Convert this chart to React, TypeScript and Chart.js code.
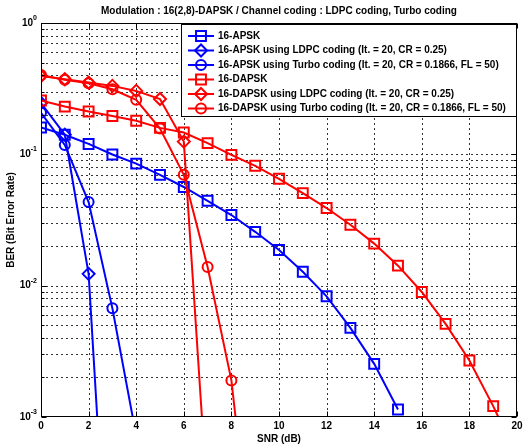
import React, { useEffect, useRef } from "react";
import { Chart, registerables } from "chart.js";
Chart.register(...registerables);

const TITLE = "Modulation : 16(2,8)-DAPSK / Channel coding : LDPC coding, Turbo coding";
const X_LABEL = "SNR (dB)";
const Y_LABEL = "BER (Bit Error Rate)";

const snrDb = [0, 1, 2, 3, 4, 5, 6, 7, 8, 9, 10, 11, 12, 13, 14, 15, 16, 17, 18, 19, 20];

const seriesLabels = [
  "16-APSK",
  "16-APSK using LDPC coding (It. = 20, CR = 0.25)",
  "16-APSK using Turbo coding (It. = 20, CR = 0.1866, FL = 50)",
  "16-DAPSK",
  "16-DAPSK using LDPC coding (It. = 20, CR = 0.25)",
  "16-DAPSK using Turbo coding (It. = 20, CR = 0.1866, FL = 50)",
];

const apsk = [0.16, 0.141, 0.12, 0.0997, 0.085, 0.0698, 0.0564, 0.0443, 0.0345, 0.0257, 0.0187, 0.01277, 0.0083, 0.00477, 0.00254, 0.00114];
const apskLdpc = [0.246, 0.141, 0.0123, 1.2e-5];
const apskTurbo = [0.207, 0.118, 0.0433, 0.00672, 7.2e-4];
const dapsk = [0.257, 0.231, 0.212, 0.196, 0.18, 0.159, 0.1465, 0.1217, 0.0991, 0.0818, 0.0651, 0.0507, 0.039, 0.0291, 0.0209, 0.0142, 0.00895, 0.00512, 0.00269, 0.00121, 5.0e-4];
const dapskLdpc = [0.395, 0.373, 0.352, 0.332, 0.304, 0.264, 0.125, 2.2e-4];
const dapskTurbo = [0.402, 0.369, 0.348, 0.313, 0.26, 0.157, 0.0698, 0.01387, 0.0019, 4.7e-5];

const yDecades = [0.001, 0.01, 0.1, 1];
const yDecadeExponents = ["-3", "-2", "-1", "0"];
const yMinorMultipliers = [1, 2, 3, 4, 5, 6, 7, 8, 9];
const xMin = 0;
const xMax = 20;
const xStep = 2;

const BLUE = "#0000ff";
const RED = "#ff0000";
const FONT = "'Liberation Sans', Arial, Helvetica, sans-serif";

const seriesValues = [apsk, apskLdpc, apskTurbo, dapsk, dapskLdpc, dapskTurbo];
const seriesColors = [BLUE, BLUE, BLUE, RED, RED, RED];
const seriesMarkers = ["rect", "rectRot", "circle", "rect", "rectRot", "circle"];
const markerRadius: Record<string, number> = { rect: 7, rectRot: 6, circle: 5 };

function yGridValues(): number[] {
  const out: number[] = [];
  for (let i = 0; i < yDecades.length - 1; i++) {
    for (const m of yMinorMultipliers) out.push(+(m * yDecades[i]).toPrecision(6));
  }
  out.push(yDecades[yDecades.length - 1]);
  return out;
}

function drawMarker(ctx: CanvasRenderingContext2D, style: string, x: number, y: number, r: number) {
  ctx.beginPath();
  if (style === "rect") {
    const s = Math.SQRT1_2 * r;
    ctx.rect(x - s, y - s, 2 * s, 2 * s);
  } else if (style === "rectRot") {
    ctx.moveTo(x - r, y);
    ctx.lineTo(x, y - r);
    ctx.lineTo(x + r, y);
    ctx.lineTo(x, y + r);
    ctx.closePath();
  } else {
    ctx.arc(x, y, r, 0, Math.PI * 2);
  }
  ctx.stroke();
}

const gridPlugin = {
  id: "matlabGrid",
  beforeDatasetsDraw(chart: any) {
    const { ctx, chartArea: a, scales } = chart;
    const xs = scales.x;
    const ys = scales.y;
    ctx.save();
    ctx.strokeStyle = "#333";
    ctx.lineWidth = 1;
    ctx.setLineDash([2, 3]);
    ctx.beginPath();
    for (let v = xMin + xStep; v < xMax; v += xStep) {
      const px = Math.round(xs.getPixelForValue(v)) + 0.5;
      ctx.moveTo(px, a.top);
      ctx.lineTo(px, a.bottom);
    }
    for (const v of yGridValues()) {
      const py = Math.round(ys.getPixelForValue(v)) + 0.5;
      if (py < a.top + 1 || py > a.bottom - 1) continue;
      ctx.moveTo(a.left, py);
      ctx.lineTo(a.right, py);
    }
    ctx.stroke();
    ctx.restore();
  },
};

const decorPlugin = {
  id: "matlabDecor",
  afterDraw(chart: any) {
    const { ctx, chartArea: a, scales } = chart;
    const xs = scales.x;
    const ys = scales.y;
    const L = Math.round(a.left) + 0.5;
    const R = Math.round(a.right) - 0.5;
    const T = Math.round(a.top) + 0.5;
    const B = Math.round(a.bottom) - 0.5;
    ctx.save();
    ctx.setLineDash([]);
    ctx.strokeStyle = "#000";
    ctx.lineWidth = 1;

    // inward tick marks
    ctx.beginPath();
    for (let v = xMin; v <= xMax; v += xStep) {
      const px = Math.round(xs.getPixelForValue(v)) + 0.5;
      ctx.moveTo(px, B);
      ctx.lineTo(px, B - 5);
      ctx.moveTo(px, T);
      ctx.lineTo(px, T + 5);
    }
    for (const v of yGridValues()) {
      const py = Math.round(ys.getPixelForValue(v)) + 0.5;
      const isDecade = yDecades.some((d) => Math.abs(d - v) < d * 1e-6);
      const len = isDecade ? 5 : 3;
      ctx.moveTo(L, py);
      ctx.lineTo(L + len, py);
      ctx.moveTo(R, py);
      ctx.lineTo(R - len, py);
    }
    ctx.stroke();

    // box
    ctx.strokeRect(L, T, R - L, B - T);

    // y decade labels with superscripts
    ctx.fillStyle = "#000";
    ctx.textBaseline = "middle";
    yDecades.forEach((d, i) => {
      const py = ys.getPixelForValue(d);
      ctx.font = `bold 7px ${FONT}`;
      const ew = ctx.measureText(yDecadeExponents[i]).width;
      ctx.font = `bold 10px ${FONT}`;
      const bw = ctx.measureText("10").width;
      const right = a.left - 4;
      ctx.textAlign = "left";
      ctx.fillText("10", right - ew - bw, py);
      ctx.font = `bold 7px ${FONT}`;
      ctx.fillText(yDecadeExponents[i], right - ew, py - 5);
    });

    // legend
    const lx = a.right - 336;
    const ly = a.top + 1;
    const lw = 335;
    const lh = 92;
    ctx.fillStyle = "#fff";
    ctx.fillRect(lx, ly, lw, lh);
    ctx.strokeStyle = "#000";
    ctx.lineWidth = 1;
    ctx.strokeRect(Math.round(lx) + 0.5, Math.round(ly) + 0.5, lw, lh);
    seriesLabels.forEach((label, i) => {
      const y = ly + 12 + i * 14.5;
      const color = seriesColors[i];
      ctx.strokeStyle = color;
      ctx.lineWidth = 2;
      ctx.beginPath();
      ctx.moveTo(lx + 7, y);
      ctx.lineTo(lx + 33, y);
      ctx.stroke();
      drawMarker(ctx, seriesMarkers[i], lx + 20, y, markerRadius[seriesMarkers[i]]);
      ctx.fillStyle = "#000";
      ctx.font = `bold 10px ${FONT}`;
      ctx.textAlign = "left";
      ctx.textBaseline = "middle";
      ctx.fillText(label, lx + 37, y);
    });
    ctx.restore();
  },
};

export default function App() {
  const ref = useRef<HTMLCanvasElement | null>(null);
  useEffect(() => {
    if (!ref.current) return;
    const datasets = seriesValues.map((vals, i) => ({
      label: seriesLabels[i],
      data: vals.map((v, k) => ({ x: snrDb[k], y: v })),
      borderColor: seriesColors[i],
      backgroundColor: "rgba(0,0,0,0)",
      borderWidth: 2,
      pointStyle: seriesMarkers[i] as any,
      pointRadius: markerRadius[seriesMarkers[i]],
      pointBorderWidth: 2,
      pointBorderColor: seriesColors[i],
      pointBackgroundColor: "rgba(0,0,0,0)",
      tension: 0,
      fill: false,
      order: 5 - i,
    }));
    const gridVals = yGridValues();
    const chart = new Chart(ref.current, {
      type: "line",
      data: { datasets },
      plugins: [gridPlugin, decorPlugin],
      options: {
        animation: false,
        responsive: false,
        devicePixelRatio: 1,
        layout: { padding: { left: 0, right: 5, top: 0, bottom: 0 } },
        plugins: {
          legend: { display: false },
          tooltip: { enabled: false },
          title: {
            display: true,
            text: TITLE,
            fullSize: false,
            color: "#000",
            font: { family: FONT, size: 10, weight: "bold" },
            padding: { top: 5, bottom: 6 },
          },
        },
        scales: {
          x: {
            type: "linear",
            min: xMin,
            max: xMax,
            ticks: {
              stepSize: xStep,
              color: "#000",
              font: { family: FONT, size: 10, weight: "bold" },
              padding: 3,
              maxRotation: 0,
            },
            grid: { display: false, drawTicks: false },
            border: { display: false },
            title: {
              display: true,
              text: X_LABEL,
              color: "#000",
              font: { family: FONT, size: 10, weight: "bold" },
              padding: { top: 0, bottom: 1 },
            },
            afterFit: (s: any) => {
              s.height = 29;
              s.paddingRight = 0;
              s.paddingLeft = 0;
            },
          },
          y: {
            type: "logarithmic",
            min: yDecades[0],
            max: yDecades[yDecades.length - 1],
            ticks: { display: false },
            afterBuildTicks: (s: any) => {
              s.ticks = gridVals.map((v) => ({ value: v }));
            },
            grid: { display: false, drawTicks: false },
            border: { display: false },
            title: {
              display: true,
              text: Y_LABEL,
              color: "#000",
              font: { family: FONT, size: 10, weight: "bold" },
              padding: { top: 5, bottom: 0 },
            },
            afterFit: (s: any) => {
              s.width = 41;
              s.paddingTop = 0;
              s.paddingBottom = 0;
            },
          },
        },
      } as any,
    });
    return () => chart.destroy();
  }, []);
  return (
    <div style={{ position: "absolute", left: 0, top: 0, width: 526, height: 446, background: "#fff" }}>
      <canvas ref={ref} width={526} height={446} />
    </div>
  );
}
